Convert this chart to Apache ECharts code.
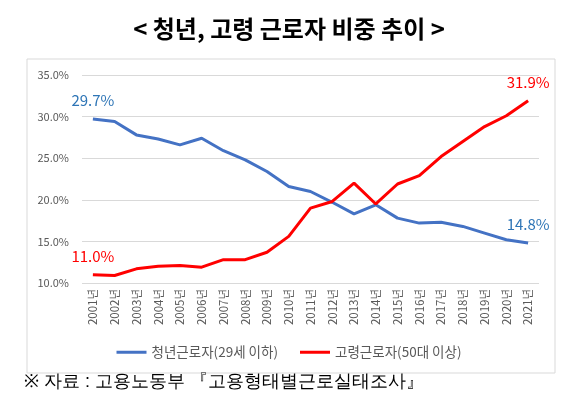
<!DOCTYPE html>
<html><head><meta charset="utf-8">
<script src="https://cdn.jsdelivr.net/npm/echarts@6/dist/echarts.min.js"></script>
<style>html,body{margin:0;padding:0;background:#fff;}#c{width:578px;height:404px;}</style>
</head><body><div id="c"></div>
<script>
const years = ['2001년','2002년','2003년','2004년','2005년','2006년','2007년','2008년','2009년','2010년','2011년','2012년','2013년','2014년','2015년','2016년','2017년','2018년','2019년','2020년','2021년'];
const youth = [29.7,29.4,27.8,27.3,26.6,27.4,25.9,24.8,23.4,21.6,21.0,19.7,18.3,19.4,17.8,17.2,17.3,16.8,16.0,15.2,14.8];
const older = [11.0,10.9,11.7,12.0,12.1,11.9,12.8,12.8,13.7,15.6,19.0,19.8,22.0,19.5,21.9,22.9,25.2,27.0,28.8,30.1,31.9];
const youthName = '청년근로자(29세 이하)';
const olderName = '고령근로자(50대 이상)';
const titleText = '< 청년, 고령 근로자 비중 추이 >';
const sourceText = '※ 자료 : 고용노동부 『고용형태별근로실태조사』';

const font = '"Noto Sans CJK KR", "Noto Sans", sans-serif';
const chart = echarts.init(document.getElementById('c'));
function endLabel(color){
  return {
    show: true, position: 'top', distance: 11, color: color, fontSize: 15, fontFamily: font,
    formatter: p => (p.dataIndex === 0 || p.dataIndex === years.length - 1) ? p.value.toFixed(1) + '%' : ''
  };
}
chart.setOption({
  animation: false,
  textStyle: {fontFamily: font},
  title: {text: titleText, left: 'center', top: 12,
    textStyle: {fontSize: 24, fontWeight: 'bold', color: '#000', fontFamily: font}},
  graphic: [
    {type: 'rect', shape: {x: 27, y: 59, width: 528, height: 314},
     style: {fill: 'none', stroke: '#d9d9d9', lineWidth: 1}, z: -1},
    {type: 'text', left: 24, top: 373,
     style: {text: sourceText, fontSize: 18, fill: '#000', font: '18px ' + font}}
  ],
  legend: {
    bottom: 40, left: 'center', itemWidth: 30, itemHeight: 3, itemGap: 22,
    icon: 'rect',
    textStyle: {fontSize: 13.5, color: '#595959', fontFamily: font},
    data: [youthName, olderName]
  },
  grid: {left: 82, right: 39, top: 75, bottom: 121},
  xAxis: {
    type: 'category', data: years, boundaryGap: true,
    axisLine: {show: false}, axisTick: {show: false},
    axisLabel: {rotate: 90, fontSize: 11.5, color: '#595959', margin: 6, interval: 0}
  },
  yAxis: {
    type: 'value', min: 10, max: 35, interval: 5,
    axisLine: {show: false}, axisTick: {show: false},
    axisLabel: {fontSize: 11, color: '#595959', margin: 13, formatter: v => v.toFixed(1) + '%'},
    splitLine: {lineStyle: {color: '#d9d9d9', width: 1}}
  },
  series: [
    {name: youthName, type: 'line', data: youth, symbol: 'circle', symbolSize: 0, showSymbol: true,
     lineStyle: {color: '#4472C4', width: 3}, itemStyle: {color: '#4472C4'},
     label: endLabel('#2E75B6')},
    {name: olderName, type: 'line', data: older, symbol: 'circle', symbolSize: 0, showSymbol: true,
     lineStyle: {color: '#FF0000', width: 3}, itemStyle: {color: '#FF0000'},
     label: endLabel('#FF0000')}
  ]
});
</script></body></html>
